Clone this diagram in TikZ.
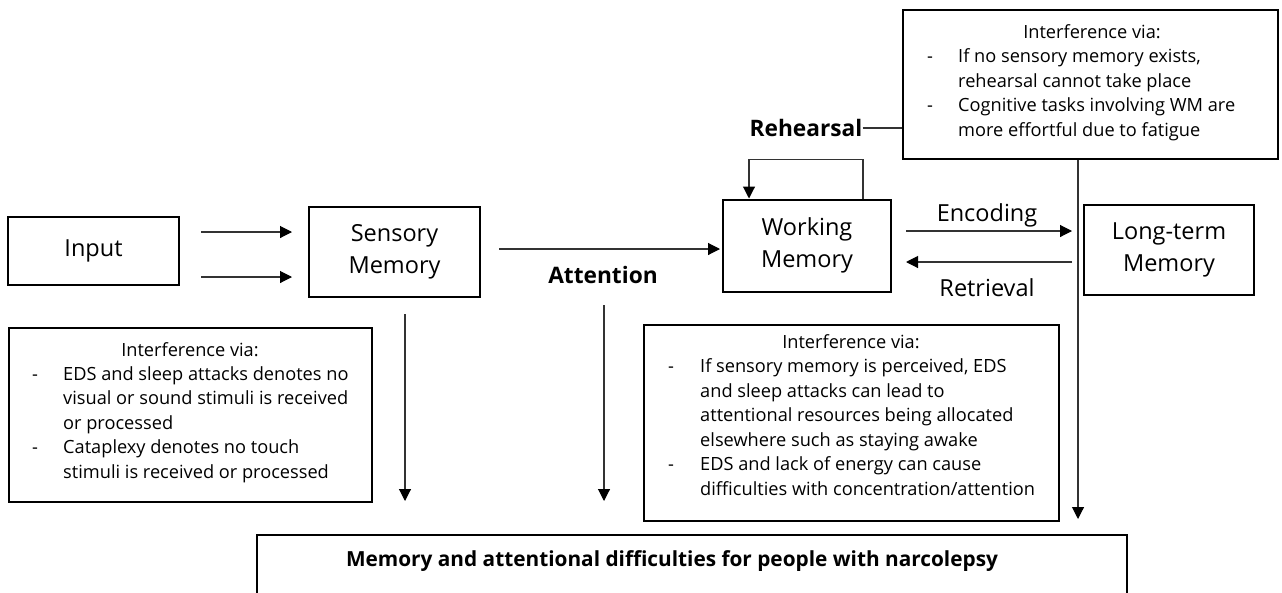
\documentclass[tikz,border=0pt]{standalone}
\usepackage{fontspec}
\setmainfont{Open Sans}
\usetikzlibrary{arrows.meta,calc}

\begin{document}
\begin{tikzpicture}[x=1pt,y=-1pt,
  box/.style={draw=black,line width=2pt,inner sep=0pt},
  link/.style={draw=black!80,line width=1.1pt},
  arr/.style={link,-{Triangle[length=12pt,width=12pt,color=black]}},
  lbl/.style={font=\fontsize{23.5}{32}\selectfont,align=center,inner sep=0pt},
  bold/.style={font=\bfseries\fontsize{22.7}{26}\selectfont,inner sep=0pt},
  note/.style={font=\fontsize{18.2}{24.5}\selectfont,inner sep=0pt,anchor=base west},
  head/.style={font=\fontsize{18.2}{24.5}\selectfont,inner sep=0pt,anchor=base}
]
\useasboundingbox (0,0) rectangle (1282,592);

% main stages
\node[box,lbl,minimum width=171pt,minimum height=68pt] (input) at (93.5,251) {\raisebox{3pt}{Input}};
\node[box,lbl,minimum width=171pt,minimum height=90pt] (sens) at (394.5,252) {Sensory\\Memory};
\node[box,lbl,minimum width=168pt,minimum height=92pt] (wm) at (807,245.5) {Working\\Memory};
\node[box,lbl,minimum width=170pt,minimum height=90pt] (ltm) at (1169,250) {Long-term\\Memory};

% interference boxes
\node[box,minimum width=363pt,minimum height=174pt] (leftnote) at (190.5,415) {};
\node[box,minimum width=415pt,minimum height=196pt] (midnote) at (851.5,423) {};
\node[box,minimum width=375pt,minimum height=149pt] (topnote) at (1090.5,84.5) {};
\node[box,minimum width=870pt,minimum height=90pt] (result) at (692,580) {};

% input to sensory memory
\coordinate (in1) at ($(input.east)+(21,-19)$);
\coordinate (in2) at ($(input.east)+(21,26)$);
\draw[arr,shorten >=16pt] (in1) -- (in1 -| sens.west);
\draw[arr,shorten >=16pt] (in2) -- (in2 -| sens.west);

% sensory memory to working memory
\coordinate (sw) at ($(sens.east)+(18,-3)$);
\draw[arr,shorten >=2pt] (sw) -- (sw -| wm.west);
\node[bold] (attn) at (603,275) {Attention};

% rehearsal loop
\draw[arr] ($(wm.north west)+(141,0)$) -- ++(0,-39) -| ($(wm.north west)+(27,0)$);
\node[bold] (reh) at (806,128) {Rehearsal};
\draw[link] (reh.east) -- (reh.east -| topnote.west);

% encoding and retrieval
\coordinate (enc) at ($(wm.east)+(14,-14.5)$);
\draw[arr,shorten >=11pt] (enc) -- (enc -| ltm.west);
\node[lbl] (enclbl) at (987,215) {Encoding};
\coordinate (ret) at ($(ltm.west)+(-11,12)$);
\draw[arr,shorten >=14pt] (ret) -- (ret -| wm.east);
\node[lbl] (retlbl) at (987,288) {Retrieval};

% paths down to the outcome
\coordinate (sv) at (405,314);
\draw[arr,shorten >=33pt] (sv) -- (sv |- result.north);
\draw[link] ($(leftnote.east)+(0,-11)$) -- ($(leftnote.east)+(0,-11)$ -| sv);
\coordinate (av) at (604,305);
\draw[arr,shorten >=33pt] (av) -- (av |- result.north);
\draw[link] ($(midnote.west)+(0,-19)$) -- ($(midnote.west)+(0,-19)$ -| av);
\coordinate (tv) at ($(topnote.south)+(-12.5,0)$);
\draw[arr,shorten >=15pt] (tv) -- (tv |- result.north);

\node[font=\bfseries\fontsize{20.8}{24}\selectfont,inner sep=0pt,anchor=base] (title) at (672,566) {Memory and attentional difficulties for people with narcolepsy};

% left note text
\node[head] (lh) at (190,356) {Interference via:};
\node[note] (ld1) at (32,380.4) {-};
\node[note] (ld2) at (32,453.6) {-};
\foreach \t [count=\i] in {{EDS and sleep attacks denotes no},{visual or sound stimuli is received},{or processed},{Cataplexy denotes no touch},{stimuli is received or processed}}
  \node[note] (lt\i) at (63,356+24.4*\i) {\t};

% middle note text
\node[head] (mh) at (851,348) {Interference via:};
\node[note] (md1) at (668,372.5) {-};
\node[note] (md2) at (668,470.5) {-};
\foreach \t [count=\i] in {{If sensory memory is perceived, EDS},{and sleep attacks can lead to},{attentional resources being allocated},{elsewhere such as staying awake},{EDS and lack of energy can cause},{difficulties with concentration/attention}}
  \node[note] (mt\i) at (700,348+24.5*\i) {\t};

% top note text
\node[head] (th) at (1092,38) {Interference via:};
\node[note] (td1) at (927,62.5) {-};
\node[note] (td2) at (927,111.5) {-};
\foreach \t [count=\i] in {{If no sensory memory exists,},{rehearsal cannot take place},{Cognitive tasks involving WM are},{more effortful due to fatigue}}
  \node[note] (tt\i) at (958,38+24.5*\i) {\t};
\end{tikzpicture}
\end{document}
